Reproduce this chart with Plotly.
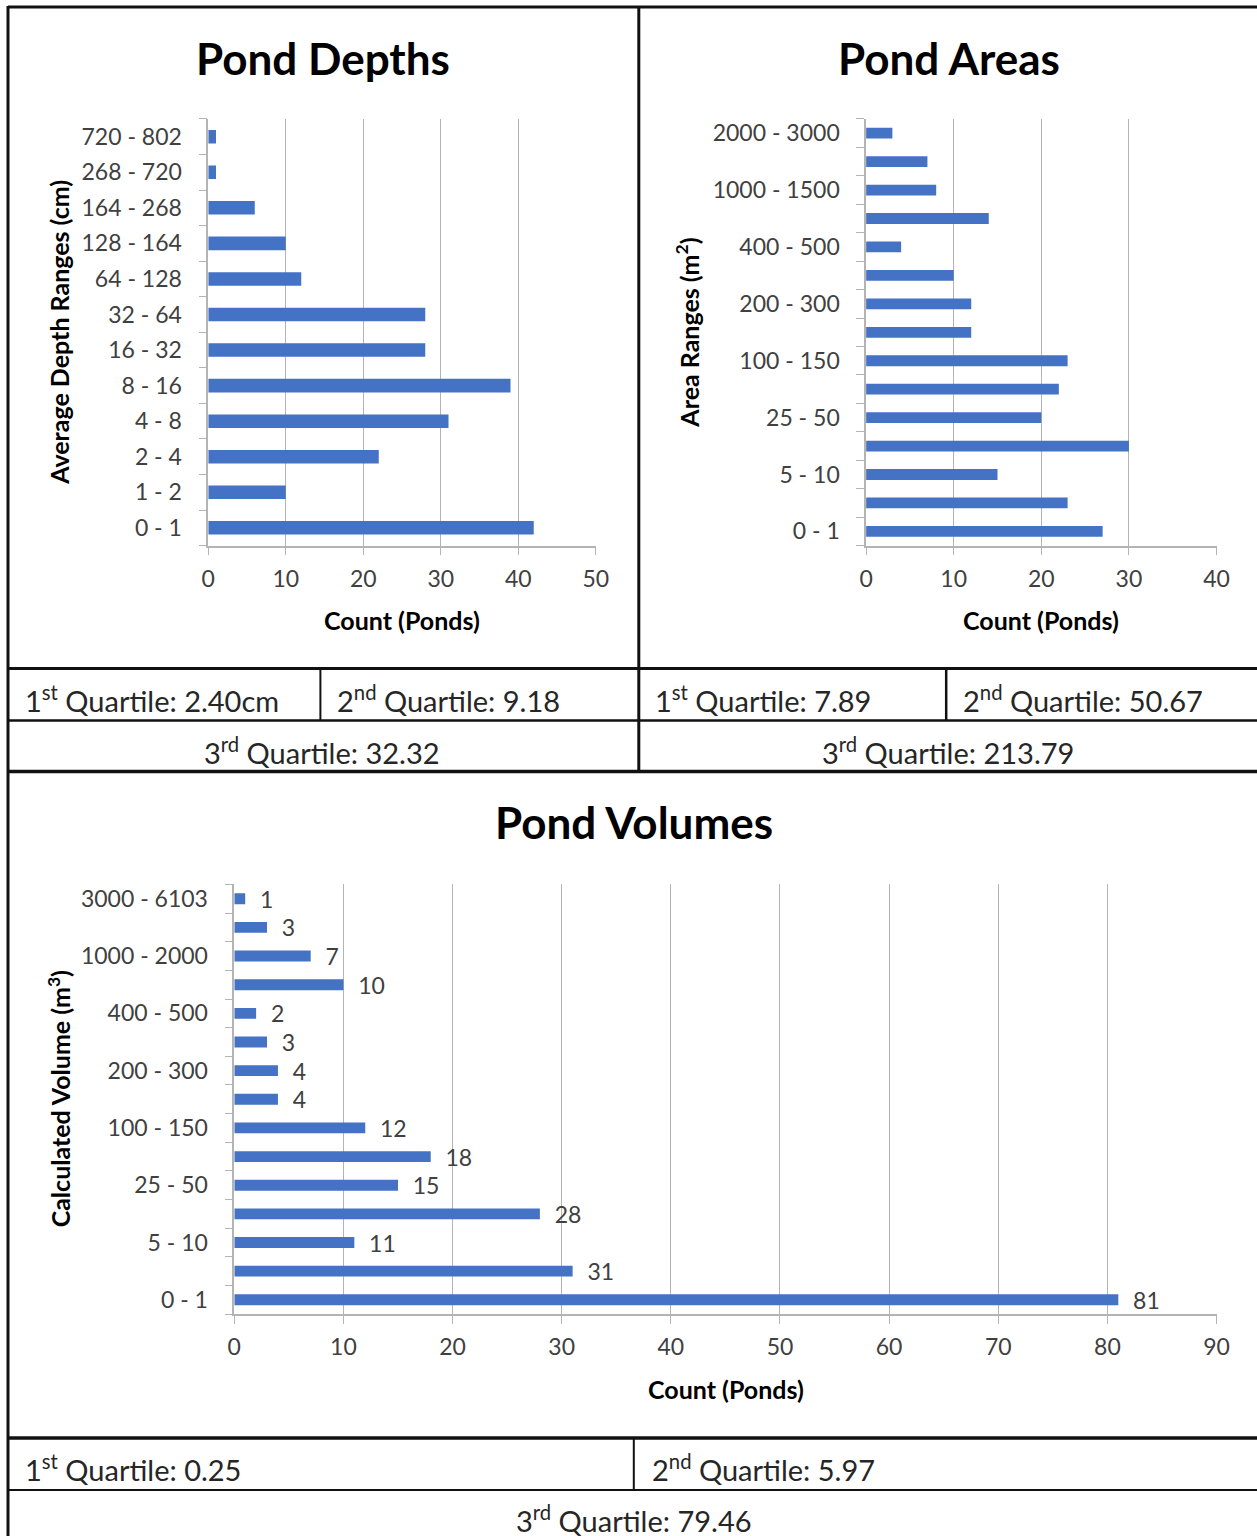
import plotly.graph_objects as go

# ---- data -------------------------------------------------------------
depth_ranges = ["0 - 1", "1 - 2", "2 - 4", "4 - 8", "8 - 16", "16 - 32", "32 - 64",
                "64 - 128", "128 - 164", "164 - 268", "268 - 720", "720 - 802"]
depth_counts = [42, 10, 22, 31, 39, 28, 28, 12, 10, 6, 1, 1]

area_ranges = ["0 - 1", "1 - 5", "5 - 10", "10 - 25", "25 - 50", "50 - 100", "100 - 150",
               "150 - 200", "200 - 300", "300 - 400", "400 - 500", "500 - 1000",
               "1000 - 1500", "1500 - 2000", "2000 - 3000"]
area_counts = [27, 23, 15, 30, 20, 22, 23, 12, 12, 10, 4, 14, 8, 7, 3]

volume_ranges = ["0 - 1", "1 - 5", "5 - 10", "10 - 25", "25 - 50", "50 - 100", "100 - 150",
                 "150 - 200", "200 - 300", "300 - 400", "400 - 500", "500 - 1000",
                 "1000 - 2000", "2000 - 3000", "3000 - 6103"]
volume_counts = [81, 31, 11, 28, 15, 18, 12, 4, 4, 3, 2, 10, 7, 3, 1]

depth_quartiles = ["2.40cm", "9.18", "32.32"]
area_quartiles = ["7.89", "50.67", "213.79"]
volume_quartiles = ["0.25", "5.97", "79.46"]

# ---- page geometry ------------------------------------------------------
PAGE_W, H = 1257, 1536
PAD = 8                      # page margin to the left of the figure
XS = 0.983                   # horizontal display factor of the page
W = 1270                     # figure width
FONT = "Lato"
BAR = "#4472C4"
GRID = "#b4b4b4"
TXT = "#262626"
TICK = "#404040"


def px(x):
    # layout pixel on the page -> paper fraction
    return (x - PAD) / XS / W


def py(y):
    return 1 - y / H


fig = go.Figure()

fig.add_trace(go.Bar(y=depth_ranges, x=depth_counts, orientation="h",
                     marker=dict(color=BAR, line=dict(width=0)),
                     xaxis="x", yaxis="y", showlegend=False))
fig.add_trace(go.Bar(y=area_ranges, x=area_counts, orientation="h",
                     marker=dict(color=BAR, line=dict(width=0)),
                     xaxis="x2", yaxis="y2", showlegend=False))
fig.add_trace(go.Bar(y=volume_ranges, x=volume_counts, orientation="h",
                     marker=dict(color=BAR, line=dict(width=0)),
                     text=volume_counts,
                     texttemplate="\u00a0\u00a0%{text}",
                     textposition="outside", cliponaxis=False,
                     constraintext="none",
                     textfont=dict(family=FONT, size=23, color=TICK),
                     xaxis="x3", yaxis="y3", showlegend=False))


def xaxis_style(domain, rng, anchor):
    return dict(domain=domain, range=rng, dtick=10, anchor=anchor,
                showgrid=True, gridcolor=GRID, gridwidth=1,
                showline=True, linecolor=GRID, linewidth=1.5,
                ticks="outside", ticklen=8, tickcolor=GRID, tickwidth=1,
                ticklabelstandoff=4, zeroline=False, fixedrange=True,
                tickfont=dict(family=FONT, size=23, color=TICK))


def yaxis_style(domain, cats, anchor, every=1):
    labels = [c if i % every == 0 else "" for i, c in enumerate(cats)]
    return dict(domain=domain, anchor=anchor, type="category",
                categoryorder="array", categoryarray=cats,
                tickmode="array", tickvals=cats, ticktext=labels,
                tickson="boundaries", ticks="outside", ticklen=8,
                tickcolor=GRID, tickwidth=1,
                showline=True, linecolor=GRID, linewidth=1.5,
                showgrid=False, zeroline=False, fixedrange=True,
                ticklabelstandoff=20,
                tickfont=dict(family=FONT, size=23, color=TICK))


fig.update_layout(
    width=W, height=H, autosize=False,
    margin=dict(l=0, r=0, t=0, b=0),
    paper_bgcolor="white", plot_bgcolor="white",
    bargap=0.62,
    font=dict(family=FONT, color=TXT),
    xaxis=xaxis_style([px(209), px(596)], [0, 50], "y"),
    yaxis=yaxis_style([py(545), py(118)], depth_ranges, "x"),
    xaxis2=xaxis_style([px(866), px(1216)], [0, 40], "y2"),
    yaxis2=yaxis_style([py(545), py(118)], area_ranges, "x2", every=2),
    xaxis3=xaxis_style([px(235), px(1216)], [0, 90], "y3"),
    yaxis3=yaxis_style([py(1314), py(884)], volume_ranges, "x3", every=2),
)

ann = []


def text(x, y, s, size, bold=False, xanchor="center", angle=0):
    ann.append(dict(x=px(x), y=py(y), xref="paper", yref="paper", text=s,
                    showarrow=False, xanchor=xanchor, yanchor="middle",
                    textangle=angle,
                    font=dict(family=FONT, size=size, color="black" if bold else TXT,
                              weight="bold" if bold else "normal")))


# chart titles
text(324, 57, "Pond Depths", 44, bold=True)
text(949, 57, "Pond Areas", 44, bold=True)
text(634, 822, "Pond Volumes", 44, bold=True)

# axis titles
text(402, 619, "Count (Ponds)", 25, bold=True)
text(1041, 619, "Count (Ponds)", 25, bold=True)
text(726, 1389, "Count (Ponds)", 25, bold=True)
text(60, 332, "Average Depth Ranges (cm)", 25, bold=True, angle=-90)
text(688, 332, "Area Ranges (m<sup>2</sup>)", 25, bold=True, angle=-90)
text(60, 1099, "Calculated Volume (m<sup>3</sup>)", 25, bold=True, angle=-90)

# quartile table cells
QS = 29
text(24, 698, "1<sup>st</sup> Quartile: " + depth_quartiles[0], QS, xanchor="left")
text(336, 698, "2<sup>nd</sup> Quartile: " + depth_quartiles[1], QS, xanchor="left")
text(323, 750, "3<sup>rd</sup> Quartile: " + depth_quartiles[2], QS)
text(653, 698, "1<sup>st</sup> Quartile: " + area_quartiles[0], QS, xanchor="left")
text(961, 698, "2<sup>nd</sup> Quartile: " + area_quartiles[1], QS, xanchor="left")
text(948, 750, "3<sup>rd</sup> Quartile: " + area_quartiles[2], QS)
text(24, 1468, "1<sup>st</sup> Quartile: " + volume_quartiles[0], QS, xanchor="left")
text(650, 1468, "2<sup>nd</sup> Quartile: " + volume_quartiles[1], QS, xanchor="left")
text(634, 1519, "3<sup>rd</sup> Quartile: " + volume_quartiles[2], QS)

fig.update_layout(annotations=ann)

# table borders
shapes = []


def line(x0, y0, x1, y1, w=3):
    shapes.append(dict(type="line", xref="paper", yref="paper",
                       x0=px(x0), y0=py(y0), x1=px(x1), y1=py(y1),
                       line=dict(color="#111111", width=w)))


RIGHT = PAGE_W + 20
line(9, 6, RIGHT, 6)                 # top edge
line(9, 5, 9, H + 2)                 # left edge
line(639, 6, 639, 771)               # split between depths and areas
line(9, 668, RIGHT, 668)
line(9, 720, RIGHT, 720, 2.5)
line(9, 771, RIGHT, 771, 3.5)
line(321, 668, 321, 720, 2)
line(946, 668, 946, 720, 2.5)
line(9, 1438, RIGHT, 1438, 3.5)
line(9, 1490, RIGHT, 1490, 2)
line(634, 1438, 634, 1490, 2)

fig.update_layout(shapes=shapes)

fig.write_html("out.html", config={"responsive": False, "displayModeBar": False})
